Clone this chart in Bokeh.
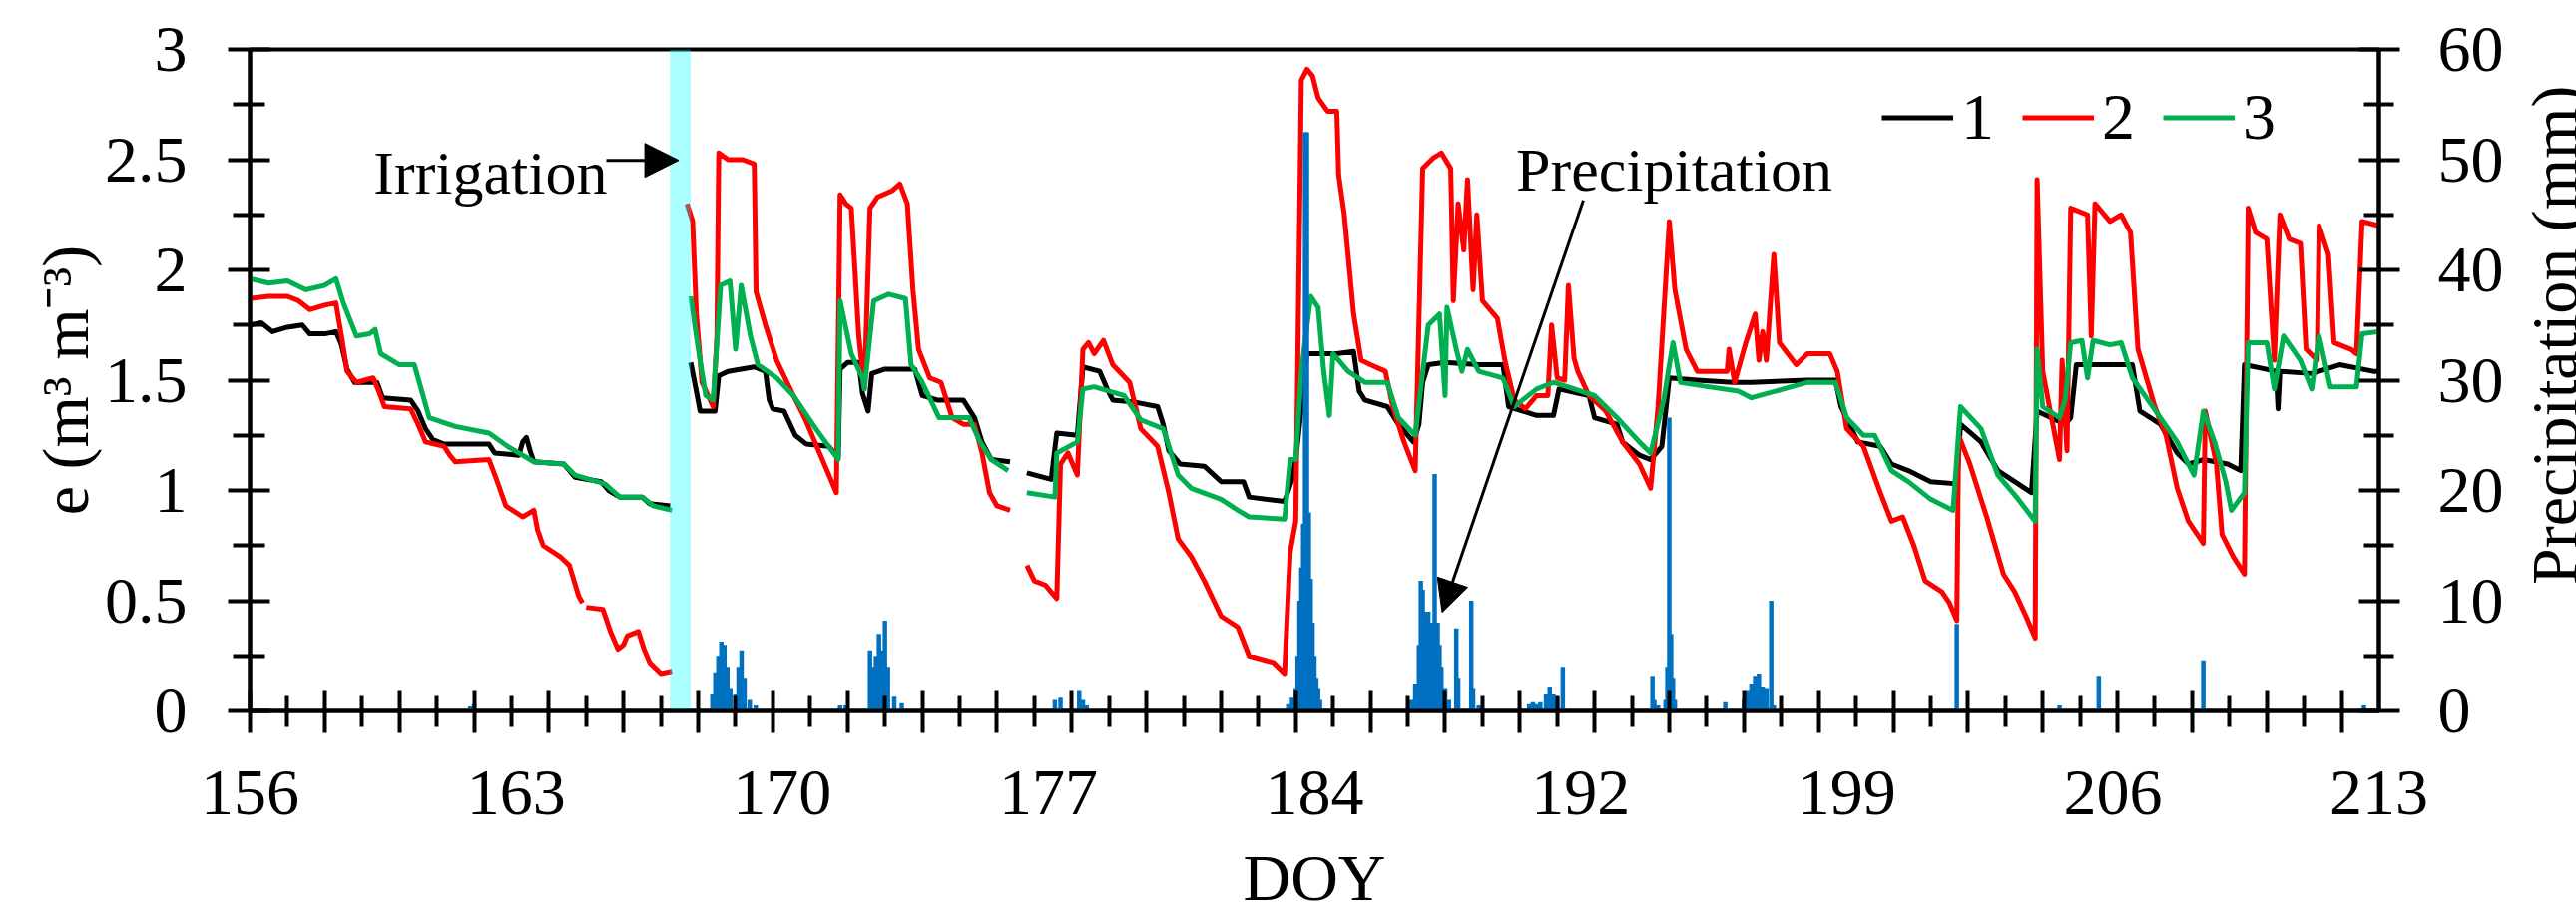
import math
from bokeh.plotting import figure
from bokeh.layouts import row
from bokeh.models import (Range1d, LinearAxis, FixedTicker, CustomJSTickFormatter,
                          Label, Arrow, NormalHead, Legend, LegendItem, ColumnDataSource)
from bokeh.embed import file_html
from bokeh.resources import INLINE

NaN = float("nan")

# ---------------- data ----------------
doy_1 = [156.0, 156.3, 156.6, 157.0, 157.4, 157.6, 158.0, 158.3, 158.45, 158.6, 158.8, 159.4, 159.55,
         160.3, 160.5, 160.7, 160.9, 161.2, 162.4, 162.55, 163.2, 163.3, 163.4, 163.5, 163.6, 164.4,
         164.7, 165.4, 165.6, 165.9, 166.5, 166.7, 167.25, 167.5,
         167.8, 167.95, 168.05, 168.45, 168.55, 168.8, 169.5, 169.8, 169.9, 170.0, 170.3, 170.6, 170.9,
         171.5, 171.75, 171.8, 172.0, 172.3, 172.4, 172.55, 172.65, 173.0, 173.8, 174.0, 174.4, 175.1,
         175.4, 175.6, 175.85, 176.35, 176.6,
         176.8, 177.45, 177.6, 178.15, 178.3, 178.75, 178.95, 179.1, 179.7, 180.3, 180.45, 180.6, 180.9,
         181.55, 182.0, 182.6, 182.75, 183.7, 183.9, 184.0, 184.2, 184.3, 185.1, 185.55, 185.7, 185.85,
         186.45, 186.75, 187.15, 187.3, 187.4, 187.55, 188.0, 188.9, 189.55, 189.7, 190.45, 190.9, 191.05,
         191.85, 192.0, 192.6, 192.75, 193.2, 193.5, 193.8, 194.0, 194.75, 195.7, 196.2, 197.7, 198.45,
         198.6, 199.05, 199.65, 199.95, 200.4, 201.0, 201.7, 201.8, 202.35, 202.8, 203.25, 203.7, 203.85,
         204.6, 204.75, 204.9, 206.4, 206.6, 207.15, 207.6, 207.9, 208.3, 208.95, 209.3, 209.4, 210.25,
         210.3, 210.35, 211.2, 211.95, 212.85, 213.0]
e_1 = [1.75, 1.76, 1.72, 1.74, 1.75, 1.71, 1.71, 1.72, 1.66, 1.55, 1.49, 1.49, 1.42,
       1.41, 1.36, 1.28, 1.23, 1.21, 1.21, 1.17, 1.16, 1.22, 1.24, 1.18, 1.13, 1.12,
       1.06, 1.04, 1.00, 0.97, 0.97, 0.94, 0.93, NaN,
       1.58, 1.45, 1.36, 1.36, 1.52, 1.54, 1.56, 1.54, 1.41, 1.37, 1.36, 1.25, 1.21,
       1.20, 1.15, 1.55, 1.58, 1.58, 1.44, 1.36, 1.53, 1.55, 1.55, 1.43, 1.41, 1.41,
       1.33, 1.22, 1.14, 1.13, NaN,
       1.08, 1.05, 1.26, 1.25, 1.56, 1.54, 1.46, 1.41, 1.40, 1.38, 1.30, 1.18, 1.12,
       1.11, 1.04, 1.04, 0.97, 0.95, 1.05, 1.14, 1.45, 1.62, 1.62, 1.63, 1.45, 1.41,
       1.38, 1.30, 1.22, 1.30, 1.49, 1.57, 1.58, 1.57, 1.57, 1.38, 1.34, 1.34, 1.46,
       1.43, 1.33, 1.30, 1.22, 1.16, 1.14, 1.20, 1.51, 1.50, 1.49, 1.49, 1.50, 1.50,
       1.38, 1.22, 1.20, 1.12, 1.09, 1.04, 1.03, 1.30, 1.22, 1.09, 1.04, 0.99, 1.36,
       1.30, 1.33, 1.57, 1.57, 1.36, 1.30, 1.17, 1.12, 1.14, 1.12, 1.09, 1.57, 1.54,
       1.37, 1.54, 1.53, 1.57, 1.54, 1.54]

doy_2 = [156.0, 156.5, 157.0, 157.3, 157.6, 158.0, 158.3, 158.45, 158.6, 158.85, 159.3, 159.45, 159.6,
         160.3, 160.5, 160.7, 161.2, 161.35, 161.5, 162.4, 162.6, 162.85, 163.3, 163.5, 163.6, 163.7,
         163.85, 164.3, 164.55, 164.8, 164.9, 164.95,
         165.0, 165.45, 165.65, 165.85, 166.0, 166.1, 166.4, 166.55, 166.7, 167.0, 167.3, 167.5,
         167.7, 167.85, 167.95, 168.1, 168.4, 168.5, 168.55, 168.8, 169.2, 169.5, 169.55, 169.8, 170.1,
         170.55, 170.85, 171.3, 171.7, 171.8, 171.95, 172.1, 172.3, 172.45, 172.6, 172.8, 173.2, 173.4,
         173.6, 173.75, 173.9, 174.2, 174.5, 174.8, 175.1, 175.4, 175.6, 175.8, 176.0, 176.35, 176.6,
         176.8, 177.0, 177.3, 177.6, 177.7, 177.9, 178.15, 178.3, 178.45, 178.6, 178.85, 179.1, 179.55,
         179.85, 180.3, 180.6, 180.85, 181.2, 181.55, 182.0, 182.45, 182.75, 183.4, 183.7, 183.85, 184.0,
         184.15, 184.3, 184.45, 184.6, 184.85, 185.1, 185.15, 185.3, 185.55, 185.75, 186.0, 186.4, 186.6,
         186.9, 187.2, 187.4, 187.7, 187.9, 188.15, 188.22, 188.35, 188.5, 188.6, 188.75, 188.85, 189.0,
         189.4, 189.6, 189.85, 190.15, 190.45, 190.75, 190.85, 191.0, 191.2, 191.3, 191.45, 191.55,
         191.85, 192.3, 192.75, 193.2, 193.5, 193.7, 194.0, 194.15, 194.45, 194.75, 195.55, 195.6,
         195.75, 196.05, 196.3, 196.4, 196.5, 196.6, 196.8, 196.95, 197.4, 197.7, 198.3, 198.5, 198.75,
         199.2, 199.65, 199.95, 200.25, 200.55, 200.85, 201.3, 201.5, 201.7, 201.75, 202.05, 202.5,
         202.95, 203.25, 203.55, 203.8, 203.85, 204.0, 204.45, 204.52, 204.65, 204.75, 205.2, 205.3,
         205.4, 205.8, 206.1, 206.35, 206.55, 207.0, 207.3, 207.6, 207.9, 208.3, 208.35, 208.65, 208.8,
         209.1, 209.4, 209.5, 209.7, 210.0, 210.2, 210.35, 210.6, 210.9, 211.05, 211.35, 211.4, 211.65,
         211.8, 212.25, 212.4, 212.55, 213.0]
e_2 = [1.87, 1.88, 1.88, 1.86, 1.82, 1.84, 1.85, 1.70, 1.54, 1.49, 1.51, 1.45, 1.38,
       1.37, 1.30, 1.22, 1.20, 1.16, 1.13, 1.14, 1.05, 0.93, 0.88, 0.90, 0.91, 0.82,
       0.75, 0.70, 0.66, 0.52, 0.49, NaN,
       0.47, 0.46, 0.36, 0.28, 0.30, 0.34, 0.36, 0.28, 0.22, 0.17, 0.18, NaN,
       2.30, 2.22, 1.80, 1.49, 1.38, 1.70, 2.53, 2.50, 2.50, 2.48, 1.90, 1.75, 1.59,
       1.43, 1.33, 1.15, 0.99, 2.34, 2.30, 2.28, 1.70, 1.46, 2.28, 2.33, 2.36, 2.39,
       2.30, 1.91, 1.64, 1.51, 1.49, 1.33, 1.30, 1.30, 1.17, 0.99, 0.93, 0.91, NaN,
       0.66, 0.59, 0.57, 0.51, 1.12, 1.17, 1.07, 1.64, 1.67, 1.62, 1.68, 1.57, 1.49,
       1.28, 1.20, 0.99, 0.78, 0.70, 0.59, 0.43, 0.38, 0.25, 0.22, 0.17, 0.72, 0.86,
       2.86, 2.91, 2.88, 2.78, 2.72, 2.72, 2.43, 2.25, 1.80, 1.59, 1.57, 1.54, 1.38,
       1.22, 1.09, 2.46, 2.51, 2.53, 2.46, 1.86, 2.30, 2.09, 2.41, 1.91, 2.25, 1.86,
       1.78, 1.59, 1.41, 1.37, 1.43, 1.43, 1.75, 1.51, 1.50, 1.93, 1.60, 1.54,
       1.43, 1.36, 1.22, 1.12, 1.01, 1.38, 2.22, 1.91, 1.64, 1.54, 1.54, 1.64,
       1.49, 1.67, 1.80, 1.59, 1.72, 1.59, 2.07, 1.67, 1.57, 1.62, 1.62, 1.54, 1.28,
       1.20, 0.99, 0.86, 0.88, 0.75, 0.59, 0.54, 0.49, 0.41, 1.25, 1.12, 0.88,
       0.62, 0.54, 0.43, 0.33, 2.41, 1.54, 1.14, 1.59, 1.18, 2.28, 2.25, 1.70,
       2.30, 2.22, 2.25, 2.17, 1.64, 1.38, 1.25, 1.01, 0.86, 0.76, 1.36, 1.12, 0.80,
       0.70, 0.62, 2.28, 2.17, 2.14, 1.59, 2.25, 2.14, 2.12, 1.64, 1.59, 2.20, 2.07,
       1.67, 1.64, 1.62, 2.22, 2.20]

doy_3 = [156.0, 156.5, 157.0, 157.5, 158.0, 158.3, 158.5, 158.85, 159.2, 159.35, 159.5, 160.0, 160.4,
         160.6, 160.8, 161.5, 162.4, 162.9, 163.6, 164.4, 164.7, 165.5, 165.9, 166.5, 166.8, 167.3, 167.5,
         167.8, 167.95, 168.05, 168.2, 168.4, 168.6, 168.85, 169.0, 169.15, 169.4, 169.6, 170.1, 170.55,
         171.15, 171.75, 171.8, 172.1, 172.4, 172.45, 172.7, 173.1, 173.55, 173.7, 174.0, 174.45, 175.25,
         175.55, 175.85, 176.3, 176.6,
         176.8, 177.55, 177.6, 178.15, 178.3, 178.6, 179.4, 179.85, 180.45, 180.85, 181.2, 182.0, 182.45,
         182.75, 183.7, 183.85, 184.0, 184.15, 184.4, 184.6, 184.75, 184.9, 185.0, 185.4, 185.85, 186.45,
         186.75, 187.2, 187.55, 187.85, 188.0, 188.05, 188.3, 188.45, 188.6, 188.9, 189.55, 189.85, 190.45,
         190.9, 192.0, 192.6, 193.2, 193.5, 193.85, 194.1, 194.3, 195.05, 195.85, 196.2, 197.7, 198.45,
         198.75, 199.2, 199.5, 199.95, 200.4, 201.0, 201.6, 201.8, 202.35, 202.8, 203.3, 203.8, 203.85,
         204.0, 204.45, 204.6, 204.75, 205.05, 205.2, 205.35, 205.8, 206.1, 206.4, 207.15, 207.6, 208.05,
         208.3, 208.6, 208.9, 209.05, 209.4, 209.5, 210.0, 210.2, 210.45, 210.9, 211.2, 211.4, 211.7,
         212.4, 212.55, 213.0]
e_3 = [1.96, 1.94, 1.95, 1.91, 1.93, 1.96, 1.85, 1.70, 1.71, 1.73, 1.62, 1.57, 1.57,
       1.45, 1.33, 1.29, 1.26, 1.20, 1.13, 1.12, 1.07, 1.03, 0.97, 0.97, 0.93, 0.91, NaN,
       1.88, 1.70, 1.59, 1.43, 1.41, 1.93, 1.95, 1.64, 1.93, 1.70, 1.57, 1.51, 1.43,
       1.28, 1.14, 1.86, 1.62, 1.51, 1.46, 1.86, 1.89, 1.87, 1.57, 1.49, 1.33, 1.33,
       1.22, 1.14, 1.09, NaN,
       0.99, 0.97, 1.17, 1.22, 1.46, 1.47, 1.43, 1.32, 1.28, 1.07, 1.01, 0.96, 0.91,
       0.88, 0.87, 1.14, 1.14, 1.54, 1.88, 1.83, 1.54, 1.34, 1.62, 1.54, 1.49, 1.49,
       1.33, 1.25, 1.75, 1.80, 1.43, 1.83, 1.64, 1.54, 1.64, 1.54, 1.51, 1.38, 1.46,
       1.49, 1.43, 1.33, 1.22, 1.17, 1.41, 1.67, 1.49, 1.47, 1.45, 1.42, 1.49, 1.49,
       1.33, 1.25, 1.25, 1.09, 1.04, 0.96, 0.91, 1.38, 1.28, 1.07, 0.97, 0.86, 1.64,
       1.38, 1.33, 1.41, 1.67, 1.68, 1.51, 1.68, 1.66, 1.67, 1.51, 1.33, 1.22, 1.07,
       1.36, 1.22, 1.04, 0.91, 0.99, 1.67, 1.67, 1.46, 1.70, 1.59, 1.46, 1.70, 1.47,
       1.47, 1.71, 1.72]

precip_doy = [161.9, 162.0,
              168.38, 168.46, 168.54, 168.62, 168.7, 168.78, 168.86, 169.0, 169.08, 169.16, 169.24, 169.38, 169.54,
              171.8, 171.95,
              172.6, 172.68, 172.76, 172.84, 172.92, 173.0, 173.08, 173.25, 173.45,
              177.55, 177.7, 178.2, 178.3, 178.4,
              183.8, 183.9, 184.0, 184.05, 184.1, 184.15, 184.2, 184.25, 184.3, 184.35, 184.4, 184.45,
              184.5, 184.55, 184.6, 184.65,
              187.1, 187.2, 187.3, 187.35, 187.4, 187.45, 187.5, 187.55, 187.6, 187.65, 187.72, 187.8,
              187.85, 187.9, 188.0, 188.1, 188.3, 188.35, 188.7, 188.75, 188.9,
              190.25, 190.35, 190.45, 190.55, 190.7, 190.8, 190.9, 191.0, 191.15,
              193.55, 193.6, 193.7, 193.9, 193.95, 194.0, 194.05, 194.1, 194.15,
              195.5,
              196.0, 196.1, 196.2, 196.3, 196.4, 196.5, 196.6, 196.73, 196.8,
              201.7, 204.45, 205.5, 208.3, 212.6]
precip_mm = [0.4, 0.6,
             1.5, 3.5, 5.0, 6.3, 6.0, 4.0, 2.0, 1.5, 4.0, 5.5, 3.0, 1.0, 0.5,
             0.5, 0.5,
             5.5, 4.0, 5.0, 7.0, 5.5, 8.2, 4.0, 1.3, 0.7,
             1.0, 1.2, 1.8, 1.0, 0.5,
             0.6, 1.2, 2.0, 5.0, 10.0, 13.0, 17.0, 52.5, 52.5, 18.0, 12.0, 8.0,
             5.0, 3.0, 2.0, 1.0,
             1.0, 2.5, 6.0, 11.8, 11.0, 9.0, 7.0, 9.0, 5.0, 8.0, 21.5, 8.0,
             6.0, 4.0, 2.0, 1.0, 7.5, 3.0, 10.0, 2.0, 0.5,
             0.6, 0.8, 0.6, 0.8, 1.5, 2.2, 1.5, 1.2, 4.0,
             3.2, 1.0, 0.5, 1.0, 4.0, 26.6, 7.0, 3.0, 1.0,
             0.8,
             1.0, 1.8, 2.5, 3.2, 3.4, 2.2, 2.0, 10.0, 0.5,
             7.9, 0.5, 3.2, 4.6, 0.5]

irrigation_doy = [167.52]
irrigation_days = [0.56]
irrigation_top = [60]

x_label_pos = [156 + 7.125 * k for k in range(9)]
x_labels = ["156", "163", "170", "177", "184", "192", "199", "206", "213"]
left_ticks = [0, 0.5, 1, 1.5, 2, 2.5, 3]
left_minor = [0.25, 0.75, 1.25, 1.75, 2.25, 2.75]
right_ticks = [0, 10, 20, 30, 40, 50, 60]
right_minor = [5, 15, 25, 35, 45, 55]
series_names = ["1", "2", "3"]
series_colors = ["#000000", "#FF0000", "#00B050"]

FONT = "Liberation Serif"
H = 918
RIGHT_W = 70     # panel holding the right axis title
MAIN_W = 2581 - RIGHT_W

# ---------------- main figure ----------------
p = figure(width=MAIN_W, height=H, output_backend="svg", toolbar_location=None,
           x_range=Range1d(156, 213), y_range=Range1d(0, 3),
           min_border_left=250, min_border_right=MAIN_W - 2385,
           min_border_top=49, min_border_bottom=201,
           outline_line_color="black", outline_line_width=4)
p.extra_y_ranges = {"precip": Range1d(0, 60)}
p.xgrid.visible = False
p.ygrid.visible = False
p.background_fill_color = "white"
p.border_fill_color = "white"


def style_axis(ax):
    ax.axis_line_width = 4
    ax.axis_line_color = "black"
    ax.major_tick_line_width = 4
    ax.minor_tick_line_width = 4
    ax.major_tick_line_color = "black"
    ax.minor_tick_line_color = "black"
    ax.major_label_text_font = FONT
    ax.major_label_text_font_size = "66px"
    ax.major_label_text_color = "black"
    ax.axis_label_text_font = FONT
    ax.axis_label_text_font_style = "normal"
    ax.axis_label_text_color = "black"


# x axis carrying the day ticks
xa = p.xaxis[0]
style_axis(xa)
xa.ticker = FixedTicker(ticks=list(range(156, 214, 2)), minor_ticks=list(range(157, 213, 2)))
xa.major_tick_in = 20
xa.major_tick_out = 22
xa.minor_tick_in = 15
xa.minor_tick_out = 16
xa.formatter = CustomJSTickFormatter(code="return '';")
xa.major_label_text_font_size = "1px"
xa.major_label_standoff = 0

# x axis carrying the labels
xl = LinearAxis(ticker=FixedTicker(ticks=x_label_pos, minor_ticks=[]),
                major_label_overrides={pos: lab for pos, lab in zip(x_label_pos, x_labels)})
style_axis(xl)
xl.axis_line_color = None
xl.major_tick_line_color = None
xl.minor_tick_line_color = None
xl.major_tick_in = 0
xl.major_tick_out = 0
xl.major_label_standoff = 38
xl.axis_label = "DOY"
xl.axis_label_text_font_size = "66px"
xl.axis_label_standoff = 24
p.add_layout(xl, "below")

# left axis
ya = p.yaxis[0]
style_axis(ya)
ya.ticker = FixedTicker(ticks=left_ticks, minor_ticks=left_minor)
ya.formatter = CustomJSTickFormatter(code="return tick.toString();")
ya.major_tick_in = 20
ya.major_tick_out = 22
ya.minor_tick_in = 15
ya.minor_tick_out = 17
ya.major_label_standoff = 41
ya.axis_label = "e (m\u00b3 m\u207b\u00b3)"
ya.axis_label_text_font_size = "66px"
ya.axis_label_standoff = 0

# right axis
ra = LinearAxis(y_range_name="precip", ticker=FixedTicker(ticks=right_ticks, minor_ticks=right_minor))
style_axis(ra)
ra.formatter = CustomJSTickFormatter(code="return tick.toString();")
ra.major_tick_in = 20
ra.major_tick_out = 21
ra.minor_tick_in = 15
ra.minor_tick_out = 15
ra.major_label_standoff = 38
p.add_layout(ra, "right")

# ---------------- series ----------------
renderers = []
for xs, ys, col in [(doy_1, e_1, series_colors[0]), (doy_2, e_2, series_colors[1]),
                    (doy_3, e_3, series_colors[2])]:
    src = ColumnDataSource(dict(x=xs, y=ys))
    r = p.line("x", "y", source=src, line_color=col, line_width=5, line_join="round")
    renderers.append(r)

psrc = ColumnDataSource(dict(x=precip_doy, top=precip_mm))
p.vbar(x="x", top="top", width=0.12, bottom=0, source=psrc, y_range_name="precip",
       fill_color="#0070C0", line_color=None)

isrc = ColumnDataSource(dict(x=irrigation_doy, w=irrigation_days, top=irrigation_top))
p.vbar(x="x", width="w", top="top", bottom=0, source=isrc, y_range_name="precip",
       fill_color="#00FFFF", fill_alpha=0.33, line_color=None)

# ---------------- legend ----------------
legend = Legend(items=[LegendItem(label=n, renderers=[r]) for n, r in zip(series_names, renderers)],
                orientation="horizontal", location=(1635, 557),
                label_text_font=FONT, label_text_font_size="66px", label_text_color="black",
                glyph_width=72, glyph_height=73, label_standoff=8, spacing=28,
                padding=0, margin=0, border_line_color=None, background_fill_alpha=0)
p.add_layout(legend)

# ---------------- annotations ----------------
p.add_layout(Label(x=159.31, y=2.44, text="Irrigation", text_font=FONT, text_font_size="62px",
                   text_align="left", text_baseline="alphabetic", text_color="black"))
p.add_layout(Arrow(x_start=165.54, y_start=2.497, x_end=167.48, y_end=2.497, line_width=3,
                   line_color="black",
                   end=NormalHead(size=34, fill_color="black", line_color="black", line_width=1)))
p.add_layout(Label(x=189.9, y=2.457, text="Precipitation", text_font=FONT, text_font_size="62px",
                   text_align="left", text_baseline="alphabetic", text_color="black"))
p.add_layout(Arrow(x_start=191.7, y_start=2.316, x_end=187.92, y_end=0.447, line_width=3,
                   line_color="black",
                   end=NormalHead(size=32, fill_color="black", line_color="black", line_width=1)))

# ---------------- side panel with the right axis title (reads bottom to top) ----------------
pr = figure(width=RIGHT_W, height=H, output_backend="svg", toolbar_location=None,
            x_range=Range1d(0, RIGHT_W), y_range=Range1d(0, H),
            x_axis_type=None, y_axis_type=None, min_border=0, outline_line_color=None)
pr.background_fill_color = "white"
pr.border_fill_color = "white"
pr.add_layout(Label(x=48, y=H - 385, text="Precipitation  (mm)", angle=math.pi / 2, text_font=FONT,
                    text_font_size="66px", text_align="center", text_baseline="alphabetic",
                    text_color="black"))

layout = row(p, pr, spacing=0)
open("out.html", "w").write(file_html(layout, INLINE))
